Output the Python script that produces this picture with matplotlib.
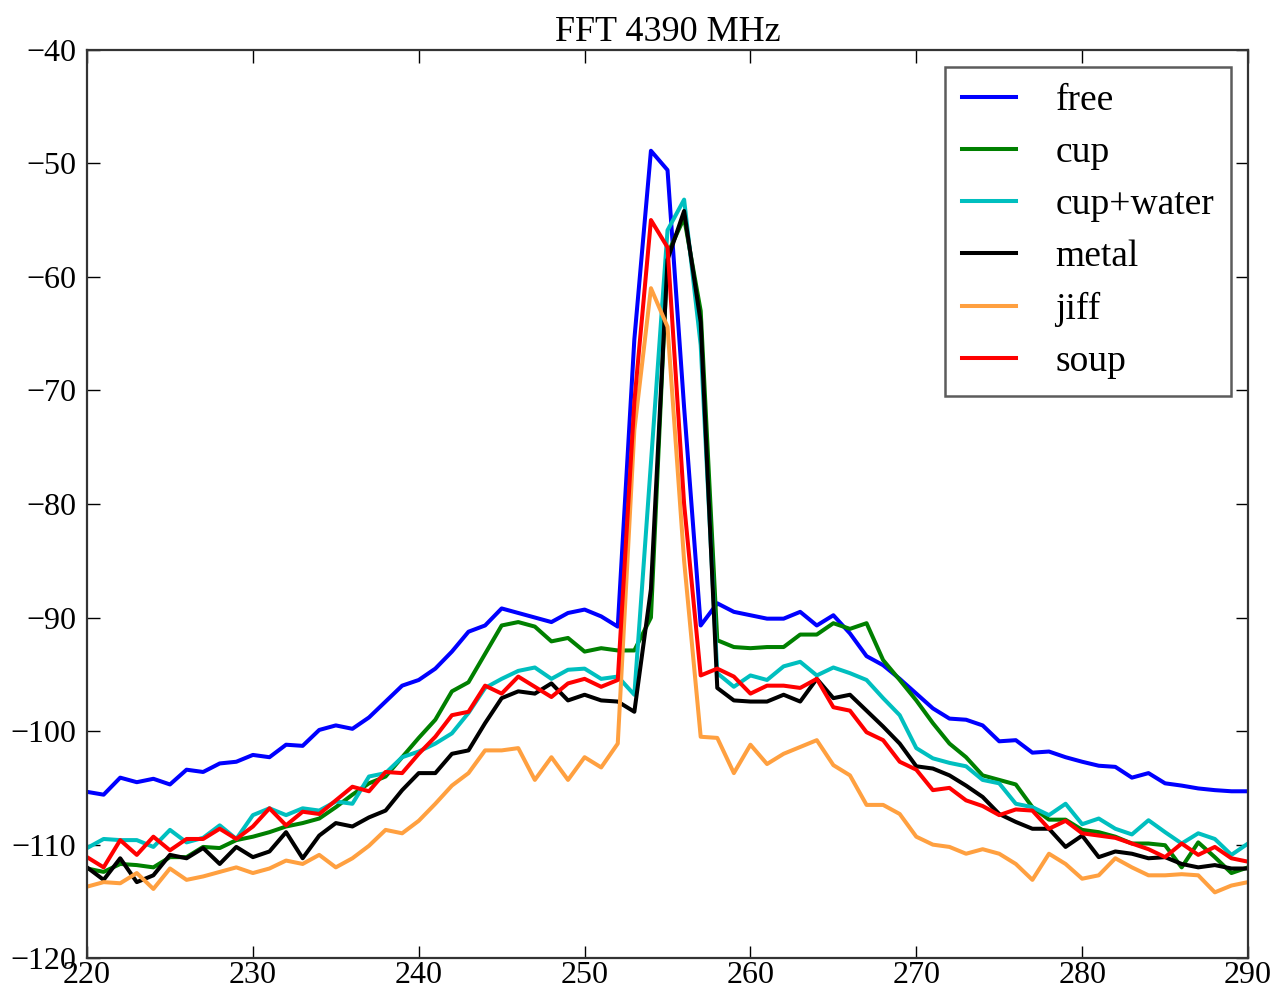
# FFT spectrum around the 4390 MHz carrier, one trace per load.
import matplotlib

matplotlib.use("Agg")
import matplotlib.pyplot as plt
import numpy as np

plt.rcParams["font.family"] = ["Liberation Serif", "DejaVu Serif"]
plt.rcParams["font.size"] = 23

bins = np.arange(220, 291)

free = [-105.35, -105.6, -104.1, -104.5, -104.2, -104.7, -103.4, -103.6, -102.85, -102.7,
        -102.1, -102.3, -101.2, -101.3, -99.9, -99.5, -99.8, -98.8, -97.4, -96.0,
        -95.5, -94.5, -93.0, -91.25, -90.7, -89.2, -89.6, -90.0, -90.4, -89.6,
        -89.3, -89.9, -90.8, -65.5, -48.9, -50.6, -71.5, -90.7, -88.75, -89.5,
        -89.8, -90.1, -90.1, -89.5, -90.7, -89.8, -91.4, -93.4, -94.2, -95.4,
        -96.7, -98.0, -98.9, -99.0, -99.5, -100.9, -100.8, -101.9, -101.8, -102.3,
        -102.7, -103.05, -103.15, -104.1, -103.7, -104.6, -104.8, -105.05, -105.2, -105.3,
        -105.3]
cup = [-112.1, -112.4, -111.7, -111.8, -112.0, -111.1, -111.1, -110.2, -110.3, -109.6,
       -109.3, -108.9, -108.4, -108.1, -107.7, -106.7, -105.6, -104.6, -104.0, -102.3,
       -100.6, -99.0, -96.5, -95.7, -93.2, -90.7, -90.4, -90.8, -92.1, -91.8,
       -93.0, -92.7, -92.9, -92.9, -90.0, -58.0, -54.8, -63.0, -92.0, -92.6,
       -92.7, -92.6, -92.6, -91.5, -91.5, -90.5, -91.0, -90.5, -93.75, -95.5,
       -97.3, -99.3, -101.1, -102.3, -103.9, -104.3, -104.7, -106.7, -107.8, -107.8,
       -108.7, -108.9, -109.3, -109.9, -109.9, -110.05, -112.0, -109.8, -111.1, -112.5,
       -112.0]
cup_water = [-110.3, -109.5, -109.6, -109.6, -110.2, -108.7, -109.8, -109.4, -108.3, -109.5,
             -107.4, -106.8, -107.4, -106.8, -107.0, -106.2, -106.4, -104.0, -103.7, -102.3,
             -101.8, -101.1, -100.2, -98.4, -96.2, -95.4, -94.7, -94.4, -95.4, -94.6,
             -94.5, -95.4, -95.2, -96.8, -76.4, -55.9, -53.2, -66.0, -94.9, -96.1,
             -95.1, -95.5, -94.3, -93.9, -95.1, -94.4, -94.9, -95.5, -97.1, -98.6,
             -101.5, -102.4, -102.8, -103.1, -104.3, -104.6, -106.4, -106.7, -107.4, -106.4,
             -108.2, -107.7, -108.6, -109.1, -107.85, -108.9, -109.9, -109.0, -109.5, -110.9,
             -109.9]
metal = [-112.0, -113.1, -111.2, -113.3, -112.7, -110.9, -111.2, -110.3, -111.7, -110.2,
         -111.1, -110.6, -108.9, -111.2, -109.2, -108.1, -108.4, -107.6, -107.0, -105.2,
         -103.7, -103.7, -102.0, -101.7, -99.3, -97.1, -96.5, -96.7, -95.8, -97.3,
         -96.8, -97.3, -97.4, -98.3, -87.5, -58.5, -54.2, -64.0, -96.2, -97.3,
         -97.4, -97.4, -96.8, -97.4, -95.4, -97.1, -96.8, -98.2, -99.6, -101.1,
         -103.1, -103.3, -103.9, -104.8, -105.8, -107.3, -108.0, -108.6, -108.6, -110.2,
         -109.2, -111.1, -110.6, -110.8, -111.2, -111.1, -111.7, -112.0, -111.8, -112.1,
         -112.1]
jiff = [-113.7, -113.3, -113.4, -112.5, -113.9, -112.1, -113.1, -112.8, -112.4, -112.0,
        -112.5, -112.1, -111.4, -111.7, -110.9, -112.0, -111.2, -110.1, -108.7, -109.0,
        -107.9, -106.4, -104.8, -103.7, -101.7, -101.7, -101.5, -104.3, -102.3, -104.3,
        -102.3, -103.2, -101.1, -73.5, -61.0, -64.4, -85.0, -100.5, -100.6, -103.7,
        -101.2, -102.9, -102.0, -101.4, -100.8, -103.0, -103.9, -106.5, -106.5, -107.3,
        -109.3, -110.0, -110.2, -110.8, -110.4, -110.8, -111.7, -113.1, -110.8, -111.7,
        -113.0, -112.7, -111.2, -112.0, -112.7, -112.7, -112.6, -112.7, -114.2, -113.6,
        -113.3]
soup = [-111.1, -112.0, -109.6, -110.9, -109.3, -110.5, -109.5, -109.5, -108.6, -109.5,
        -108.4, -106.8, -108.3, -107.1, -107.3, -106.1, -104.9, -105.3, -103.6, -103.7,
        -102.0, -100.5, -98.6, -98.3, -96.0, -96.7, -95.2, -96.1, -97.0, -95.8,
        -95.4, -96.1, -95.5, -71.0, -55.0, -57.4, -80.0, -95.1, -94.5, -95.2,
        -96.7, -96.0, -96.0, -96.2, -95.4, -97.9, -98.2, -100.1, -100.8, -102.7,
        -103.4, -105.2, -105.0, -106.1, -106.6, -107.4, -106.9, -107.0, -108.6, -107.9,
        -109.0, -109.2, -109.4, -109.9, -110.4, -111.1, -109.9, -110.9, -110.2, -111.2,
        -111.5]

series = [
    ("free", free, "#0000ff"),
    ("cup", cup, "#008000"),
    ("cup+water", cup_water, "#00bfbf"),
    ("metal", metal, "#000000"),
    ("jiff", jiff, "#ffa040"),
    ("soup", soup, "#ff0000"),
]

fig = plt.figure(figsize=(12.8, 9.94), dpi=100)
ax = fig.add_axes([0.068, 0.036, 0.907, 0.914])
for name, vals, col in series:
    ax.plot(bins, vals, color=col, lw=2.9, label=name)

ax.set_xlim(220, 290)
ax.set_ylim(-120, -40)
ax.set_xticks(range(220, 291, 10))
ax.set_yticks(range(-120, -39, 10))
ax.tick_params(direction="in", length=9, width=1, top=True, right=True, labelsize=23)
ax.tick_params(axis="x", pad=2)
ax.tick_params(axis="y", pad=8)
for sp in ax.spines.values():
    sp.set_linewidth(1.6)
    sp.set_edgecolor("#333333")
ax.set_title("FFT 4390 MHz", fontsize=26, pad=6)

leg = ax.legend(loc="upper right", fontsize=27, fancybox=False, borderaxespad=0.45,
                handlelength=1.45, handletextpad=1.05, labelspacing=0.47, borderpad=0.45)
leg.get_frame().set_edgecolor("#333333")
leg.get_frame().set_linewidth(1.8)

fig.savefig("out.png", dpi=100, facecolor="white")
